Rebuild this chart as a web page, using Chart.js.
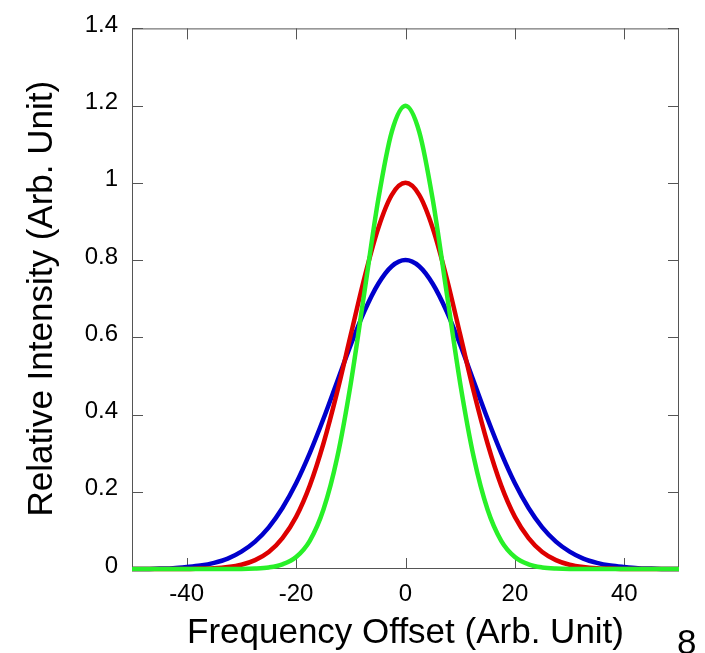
<!DOCTYPE html>
<html>
<head>
<meta charset="utf-8">
<script src="https://cdn.jsdelivr.net/npm/chart.js@4/dist/chart.umd.min.js"></script>
<style>
    html, body { margin: 0; padding: 0; background: #fff; }
    #wrap { position: relative; width: 705px; height: 653px; overflow: hidden; }
    #page { position: absolute; left: 677px; top: 622px; font: 35px "Liberation Sans", Arial, sans-serif; color: #000; }
</style>
</head>
<body>
<div id="wrap">
    <canvas id="chart" width="705" height="653"></canvas>
    <div id="page">8</div>
</div>
<script>
const offsets = [-50, -47.5, -45, -42.5, -40, -37.5, -35, -32.5, -30, -27.5,
    -25, -22.5, -20, -17.5, -15, -12.5, -10, -7.5, -5, -2.5, 0,
    2.5, 5, 7.5, 10, 12.5, 15, 17.5, 20, 22.5, 25,
    27.5, 30, 32.5, 35, 37.5, 40, 42.5, 45, 47.5, 50];

const blueIntensity = [0, 0, 0.001, 0.002, 0.005, 0.009, 0.016, 0.027, 0.045, 0.071,
    0.108, 0.158, 0.222, 0.300, 0.389, 0.485, 0.581, 0.668, 0.738, 0.784, 0.800,
    0.784, 0.738, 0.668, 0.581, 0.485, 0.389, 0.300, 0.222, 0.158, 0.108,
    0.071, 0.045, 0.027, 0.016, 0.009, 0.005, 0.002, 0.001, 0, 0];

const redIntensity = [0, 0, 0, 0, 0, 0.001, 0.002, 0.005, 0.011, 0.023,
    0.044, 0.080, 0.135, 0.216, 0.325, 0.458, 0.607, 0.755, 0.882, 0.969, 1.000,
    0.969, 0.882, 0.755, 0.607, 0.458, 0.325, 0.216, 0.135, 0.080, 0.044,
    0.023, 0.011, 0.005, 0.002, 0.001, 0, 0, 0, 0, 0];

const greenIntensity = [0, 0, 0, 0, 0, 0, 0, 0, 0, 0.001,
    0.004, 0.012, 0.031, 0.073, 0.154, 0.288, 0.481, 0.718, 0.955, 1.133, 1.200,
    1.133, 0.955, 0.718, 0.481, 0.288, 0.154, 0.073, 0.031, 0.012, 0.004,
    0.001, 0, 0, 0, 0, 0, 0, 0, 0, 0];

const xTicks = [-40, -20, 0, 20, 40];
const yTicks = [0, 0.2, 0.4, 0.6, 0.8, 1, 1.2, 1.4];
const yTickLabels = ['0', '0.2', '0.4', '0.6', '0.8', '1', '1.2', '1.4'];

const font = '"Liberation Sans", Arial, Helvetica, sans-serif';

const toPoints = values => values.map((v, i) => ({ x: offsets[i], y: v }));

// box frame with tick marks pointing inwards on all four sides
const frameTicks = {
    id: 'frameTicks',
    beforeDatasetsDraw(chart) {
        const { ctx, chartArea: a, scales: { x, y } } = chart;
        ctx.save();
        ctx.strokeStyle = '#555';
        ctx.lineWidth = 1;
        ctx.strokeRect(a.left + 0.5, a.top + 0.5, a.right - a.left - 1, a.bottom - a.top - 1);
        ctx.beginPath();
        xTicks.forEach(v => {
            const px = Math.round(x.getPixelForValue(v)) + 0.5;
            ctx.moveTo(px, a.bottom);
            ctx.lineTo(px, a.bottom - 11);
            ctx.moveTo(px, a.top);
            ctx.lineTo(px, a.top + 11);
        });
        yTicks.forEach(v => {
            const py = Math.round(y.getPixelForValue(v)) + 0.5;
            ctx.moveTo(a.left, py);
            ctx.lineTo(a.left + 11, py);
            ctx.moveTo(a.right, py);
            ctx.lineTo(a.right - 11, py);
        });
        ctx.stroke();
        ctx.restore();
    }
};

new Chart(document.getElementById('chart'), {
    type: 'line',
    data: {
        datasets: [
            {
                label: 'Blue',
                data: toPoints(blueIntensity),
                borderColor: 'rgb(0, 0, 204)',
                order: 3
            },
            {
                label: 'Red',
                data: toPoints(redIntensity),
                borderColor: 'rgb(221, 0, 0)',
                order: 2
            },
            {
                label: 'Green',
                data: toPoints(greenIntensity),
                borderColor: 'rgb(40, 240, 40)',
                order: 1
            }
        ]
    },
    options: {
        responsive: false,
        animation: false,
        events: [],
        clip: 6,
        layout: {
            padding: { left: 0, right: 26, top: 25, bottom: 0 }
        },
        elements: {
            point: { radius: 0 },
            line: { borderWidth: 4.5, cubicInterpolationMode: 'monotone', fill: false }
        },
        plugins: {
            legend: { display: false },
            tooltip: { enabled: false }
        },
        scales: {
            x: {
                type: 'linear',
                min: -50,
                max: 50,
                afterBuildTicks: scale => { scale.ticks = xTicks.map(v => ({ value: v })); },
                afterFit: scale => { scale.height = 84; },
                grid: { display: false, drawTicks: false },
                border: { display: false },
                ticks: {
                    padding: 11,
                    color: '#000',
                    maxRotation: 0,
                    font: { family: font, size: 24 }
                },
                title: {
                    display: true,
                    text: 'Frequency Offset (Arb. Unit)',
                    color: '#000',
                    padding: { top: 0, bottom: 0 },
                    font: { family: font, size: 35, lineHeight: 1.1 }
                }
            },
            y: {
                min: 0,
                max: 1.4,
                afterBuildTicks: scale => { scale.ticks = yTicks.map(v => ({ value: v })); },
                afterFit: scale => { scale.width = 132; },
                grid: { display: false, drawTicks: false },
                border: { display: false },
                ticks: {
                    padding: 14,
                    labelOffset: -3,
                    color: '#000',
                    font: { family: font, size: 24 },
                    callback: (value, index) => yTickLabels[index]
                },
                title: {
                    display: true,
                    text: 'Relative Intensity (Arb. Unit)',
                    color: '#000',
                    padding: { top: 21, bottom: 0 },
                    font: { family: font, size: 35, lineHeight: 1.2 }
                }
            }
        }
    },
    plugins: [frameTicks]
});
</script>
</body>
</html>
